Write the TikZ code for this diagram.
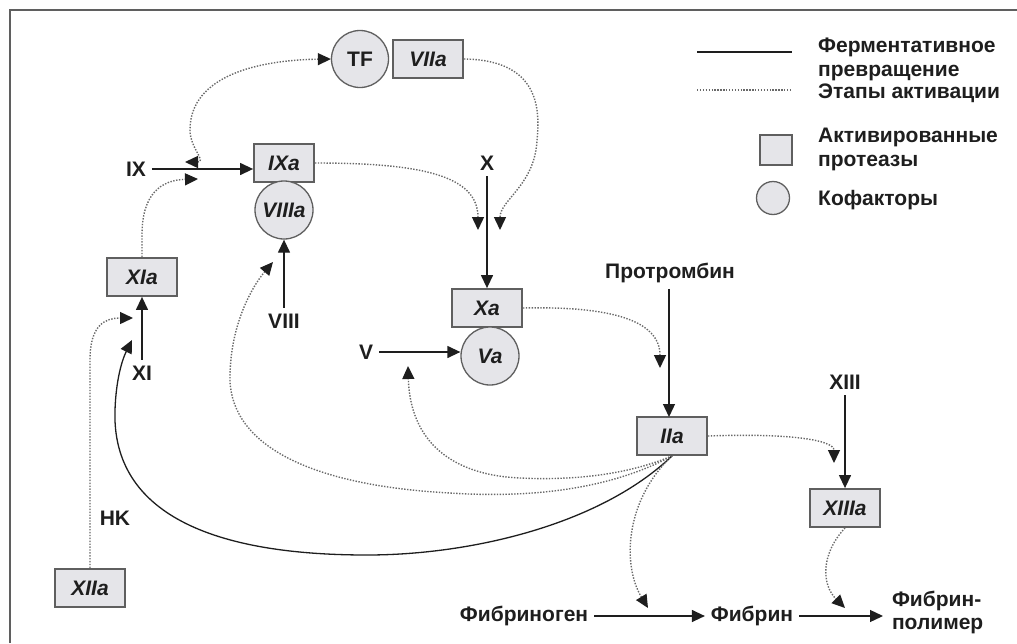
\documentclass[tikz,border=0pt]{standalone}
\usepackage{fontspec}
\setmainfont{Liberation Sans}
\usetikzlibrary{arrows.meta}
\definecolor{boxfill}{RGB}{229,229,233}
\definecolor{boxline}{RGB}{95,95,95}
\definecolor{ink}{RGB}{30,30,30}
\definecolor{dots}{RGB}{105,105,105}
\definecolor{frame}{RGB}{95,95,95}

\begin{document}
\begin{tikzpicture}[x=1pt, y=-1pt,
  every node/.style={font=\fontsize{21}{23}\selectfont\bfseries, text=ink, inner sep=0pt},
  >={Triangle[length=13pt, width=12pt, color=ink]},
  lab/.style={outer sep=6pt},
  enz/.style={draw=boxline, line width=1.8pt, fill=boxfill, minimum width=70pt, minimum height=38pt,
    font=\fontsize{21}{23}\selectfont\bfseries\itshape},
  cof/.style={circle, draw=boxline, line width=1.3pt, fill=boxfill, minimum size=58pt},
  conv/.style={draw=ink, line width=1.3pt, ->},
  act/.style={draw=dots, line width=1.4pt, dash pattern=on 1.4pt off 1.5pt, ->}]
  \useasboundingbox (0,0) rectangle (1017,643);

  % frame
  \draw[draw=frame, line width=2.5pt] (10,643) -- (10,10) -- (1017,10);

  % active proteases and cofactors
  \node[enz] (VIIa) at (428,59) {VIIa};
  \node[cof, minimum size=57pt] (TF) at (360,59) {TF};
  \node[enz, minimum width=60pt] (IXa) at (284,163) {IXa};
  \node[cof] (VIIIa) at (284,210) {\itshape VIIIa};
  \node[enz] (Xa) at (487,308) {Xa};
  \node[cof] (Va) at (490,356) {\itshape Va};
  \node[enz] (IIa) at (672,436) {IIa};
  \node[enz] (XIIIa) at (845,508) {XIIIa};
  \node[enz] (XIa) at (142,277) {XIa};
  \node[enz] (XIIa) at (90,588) {XIIa};

  % precursors
  \node[lab] (IX) at (136,169) {IX};
  \node[lab] (X) at (487,163) {X};
  \node[lab] (XI) at (142,373) {XI};
  \node[lab] (VIII) at (284,321) {VIII};
  \node[lab] (V) at (366,352) {V};
  \node (HK) at (115,518) {HK};
  \node[lab] (XIII) at (845,382) {XIII};
  \node[lab] (PT) at (670,273) {Протромбин};
  \node[lab] (FG) at (524,616) {Фибриноген};
  \node[lab] (FB) at (752,616) {Фибрин};
  \node[lab, anchor=west, align=left, outer sep=9pt] (FP) at (883,612) {Фибрин-\\полимер};

  % enzymatic conversion
  \draw[conv] (IX) -- (IXa.west |- IX);
  \draw[conv] (XI) -- (XIa);
  \draw[conv] (VIII) -- (VIIIa);
  \draw[conv] (X) -- (Xa);
  \draw[conv] (V) -- (Va.west |- V);
  \draw[conv] (PT.south -| 669,0) -- (669,417);
  \draw[conv] (XIII) -- (XIIIa);
  \draw[conv] (FG) -- (FB);
  \draw[conv] (FB) -- (FP.west |- FB);

  % activation steps
  \coordinate (IXup) at (185,162);
  \coordinate (IXdn) at (198,179);
  \draw[act, <->] (IXup) .. controls (207,162) and (190,148) .. (190,130)
    .. controls (190,75) and (260,60) .. (TF.west);
  \draw[act] (VIIa.east) .. controls (540,60) and (540,110) .. (537,140)
    .. controls (535,185) and (500,200) .. (500,230);
  \draw[act] (IXa.east) .. controls (420,163) and (478,175) .. (478,230);
  \draw[act] (Xa.east) .. controls (610,306) and (660,320) .. (660,368);
  \draw[act] (IIa.east) .. controls (790,433) and (834,440) .. (834,463);
  \draw[act] (XIIIa.south) .. controls (820,555) and (822,585) .. (845,608);
  \draw[act] (XIa.north) -- (142,235) .. controls (142,195) and (160,180) .. (IXdn);
  \draw[act] (XIIa.north) -- (90,360) .. controls (90,325) and (105,318) .. (133,318);

  % thrombin feedback
  \draw[act] (IIa.south) .. controls (620,478) and (560,480) .. (520,478)
    .. controls (450,475) and (410,440) .. (408,366);
  \draw[act] (IIa.south) .. controls (600,495) and (510,497) .. (450,493)
    .. controls (300,485) and (228,440) .. (230,375)
    .. controls (231,320) and (255,283) .. (273,262);
  \draw[conv] (IIa.south) .. controls (600,525) and (470,555) .. (367,555)
    .. controls (180,555) and (112,495) .. (115,410)
    .. controls (116,380) and (122,360) .. (132,340);
  \draw[act] (IIa.south) .. controls (625,500) and (622,565) .. (648,608);

  % legend
  \draw[conv, -] (697,52) -- (792,52);
  \draw[act, -] (697,90) -- (790,90);
  \node[enz, minimum width=32pt, minimum height=30pt] (lgbox) at (776,150) {};
  \node[cof, minimum size=33pt] (lgcirc) at (773,198) {};
  \node[anchor=base west] (lgA) at (818,52) {Ферментативное};
  \node[anchor=base west] (lgB) at (818,76) {превращение};
  \node[anchor=base west] (lgC) at (818,98) {Этапы активации};
  \node[anchor=base west] (lgD) at (818,142) {Активированные};
  \node[anchor=base west] (lgE) at (818,166) {протеазы};
  \node[anchor=base west] (lgF) at (818,205) {Кофакторы};
\end{tikzpicture}
\end{document}
